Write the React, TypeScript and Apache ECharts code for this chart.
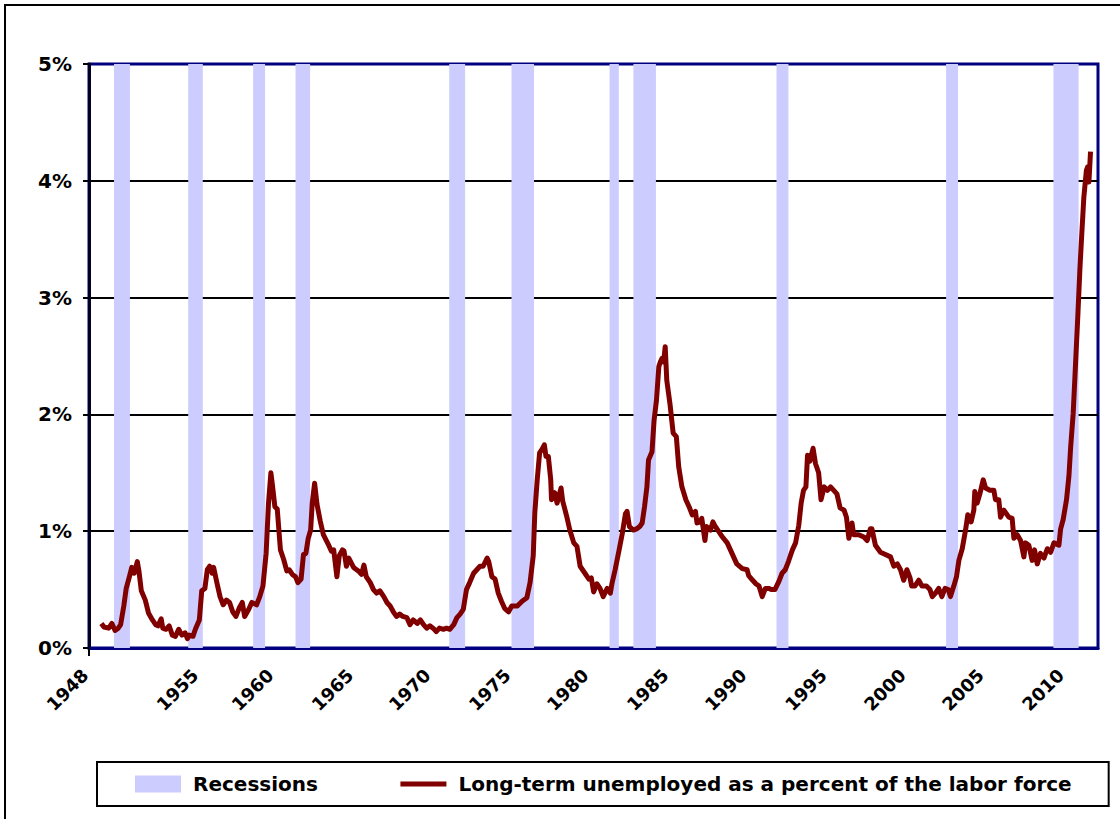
import React, { useEffect, useRef } from 'react';
import * as echarts from 'echarts';

// Observation dates (decimal years) and long-term unemployment (% of labor force)
const obsYears = [
  1948.04, 1948.2, 1948.5, 1948.7, 1948.9, 1949.1, 1949.25, 1949.45, 1949.6, 1949.8, 1949.95,
  1950.1, 1950.3, 1950.4, 1950.55, 1950.8, 1951.0, 1951.25, 1951.45, 1951.6, 1951.8, 1951.9,
  1952.1, 1952.3, 1952.5, 1952.7, 1952.9, 1953.1, 1953.3, 1953.45, 1953.55, 1953.8, 1953.95,
  1954.2, 1954.35, 1954.55, 1954.7, 1954.85, 1955.0, 1955.1, 1955.3, 1955.5, 1955.7, 1955.9,
  1956.1, 1956.3, 1956.5, 1956.7, 1956.9, 1957.05, 1957.3, 1957.5, 1957.8, 1958.0, 1958.2,
  1958.4, 1958.55, 1958.7, 1958.8, 1958.95, 1959.1, 1959.3, 1959.5, 1959.7, 1959.85, 1960.05,
  1960.25, 1960.4, 1960.6, 1960.75, 1960.9, 1961.05, 1961.2, 1961.3, 1961.45, 1961.6, 1961.8,
  1962.0, 1962.3, 1962.5, 1962.65, 1962.85, 1963.0, 1963.2, 1963.3, 1963.45, 1963.6, 1963.9,
  1964.2, 1964.4, 1964.55, 1964.7, 1964.95, 1965.15, 1965.35, 1965.55, 1965.8, 1966.0, 1966.2,
  1966.4, 1966.6, 1966.8, 1967.0, 1967.25, 1967.45, 1967.65, 1967.9, 1968.1, 1968.3, 1968.5,
  1968.7, 1968.9, 1969.1, 1969.3, 1969.55, 1969.75, 1969.95, 1970.2, 1970.4, 1970.6, 1970.8,
  1971.0, 1971.2, 1971.45, 1971.65, 1971.85, 1972.05, 1972.3, 1972.4, 1972.6, 1972.8, 1973.0,
  1973.2, 1973.4, 1973.65, 1973.85, 1974.2, 1974.5, 1974.8, 1975.0, 1975.2, 1975.3, 1975.45,
  1975.6, 1975.75, 1975.9, 1976.0, 1976.15, 1976.3, 1976.35, 1976.55, 1976.7, 1976.95, 1977.05,
  1977.3, 1977.5, 1977.75, 1977.95, 1978.15, 1978.45, 1978.7, 1978.85, 1979.0, 1979.2, 1979.4,
  1979.6, 1979.85, 1980.05, 1980.15, 1980.35, 1980.6, 1980.8, 1981.0, 1981.1, 1981.25, 1981.5,
  1981.7, 1981.9, 1982.05, 1982.2, 1982.35, 1982.45, 1982.67, 1982.8, 1982.95, 1983.1, 1983.2,
  1983.3, 1983.4, 1983.5, 1983.6, 1983.8, 1984.0, 1984.2, 1984.35, 1984.55, 1984.8, 1985.0,
  1985.2, 1985.4, 1985.5, 1985.7, 1985.8, 1986.0, 1986.1, 1986.35, 1986.5, 1986.65, 1986.85,
  1987.1, 1987.4, 1987.6, 1987.8, 1988.0, 1988.35, 1988.65, 1988.75, 1989.0, 1989.2, 1989.4,
  1989.6, 1989.8, 1990.0, 1990.2, 1990.4, 1990.65, 1990.85, 1991.05, 1991.25, 1991.5, 1991.7,
  1991.9, 1992.05, 1992.2, 1992.35, 1992.45, 1992.6, 1992.8, 1992.95, 1993.15, 1993.3, 1993.5,
  1993.7, 1993.9, 1994.1, 1994.3, 1994.5, 1994.75, 1994.9, 1995.05, 1995.25, 1995.35, 1995.67,
  1995.99, 1996.2, 1996.4, 1996.5, 1996.72, 1997.04, 1997.35, 1997.67, 1997.88, 1998.1, 1998.3,
  1998.5, 1998.7, 1998.9, 1999.0, 1999.2, 1999.45, 1999.65, 1999.93, 2000.15, 2000.3, 2000.5,
  2000.7, 2000.9, 2001.1, 2001.3, 2001.44, 2001.65, 2001.82, 2001.97, 2002.18, 2002.39, 2002.53,
  2002.74, 2002.91, 2002.97, 2003.12, 2003.29, 2003.5, 2003.65, 2003.92, 2004.17, 2004.27, 2004.48,
  2004.59, 2004.8, 2005.11, 2005.32, 2005.43, 2005.64, 2005.85, 2006.06, 2006.16, 2006.37, 2006.58,
  2006.73, 2006.9, 2007.1, 2007.32, 2007.53, 2007.74, 2007.95, 2008.26, 2008.37, 2008.53, 2008.74,
  2008.89, 2009.0, 2009.16, 2009.31, 2009.46, 2009.58, 2009.69, 2009.83, 2009.99, 2010.07, 2010.15,
  2010.25,
];

const obsValues = [
  0.21, 0.18, 0.17, 0.21, 0.15, 0.17, 0.20, 0.36, 0.51, 0.61, 0.69,
  0.64, 0.74, 0.66, 0.49, 0.41, 0.30, 0.24, 0.20, 0.19, 0.25, 0.17,
  0.16, 0.19, 0.11, 0.10, 0.16, 0.11, 0.13, 0.08, 0.11, 0.10, 0.16,
  0.24, 0.49, 0.51, 0.67, 0.70, 0.64, 0.69, 0.56, 0.44, 0.37, 0.41,
  0.39, 0.31, 0.27, 0.34, 0.39, 0.27, 0.33, 0.39, 0.37, 0.44, 0.53,
  0.81, 1.24, 1.50, 1.39, 1.21, 1.19, 0.84, 0.76, 0.66, 0.67, 0.63,
  0.61, 0.56, 0.59, 0.80, 0.81, 0.94, 1.01, 1.24, 1.41, 1.23, 1.09,
  0.97, 0.89, 0.83, 0.84, 0.61, 0.79, 0.84, 0.83, 0.70, 0.77, 0.69,
  0.66, 0.63, 0.71, 0.61, 0.56, 0.50, 0.47, 0.49, 0.44, 0.39, 0.36,
  0.31, 0.27, 0.29, 0.27, 0.26, 0.20, 0.24, 0.21, 0.24, 0.20, 0.17,
  0.19, 0.17, 0.14, 0.17, 0.16, 0.17, 0.16, 0.20, 0.26, 0.29, 0.33,
  0.50, 0.56, 0.64, 0.67, 0.70, 0.70, 0.77, 0.74, 0.61, 0.59, 0.47,
  0.40, 0.34, 0.31, 0.36, 0.36, 0.40, 0.43, 0.56, 0.79, 1.16, 1.44,
  1.67, 1.70, 1.74, 1.64, 1.64, 1.44, 1.27, 1.33, 1.24, 1.37, 1.26,
  1.13, 1.01, 0.90, 0.87, 0.70, 0.64, 0.59, 0.60, 0.48, 0.55, 0.51,
  0.44, 0.51, 0.47, 0.55, 0.67, 0.84, 0.98, 1.15, 1.17, 1.04, 1.01,
  1.02, 1.04, 1.07, 1.21, 1.38, 1.61, 1.68, 1.95, 2.12, 2.41, 2.45,
  2.48, 2.45, 2.58, 2.29, 2.09, 1.84, 1.81, 1.55, 1.38, 1.27, 1.21,
  1.14, 1.17, 1.07, 1.08, 1.11, 0.92, 1.04, 1.01, 1.08, 1.04, 1.00,
  0.95, 0.90, 0.84, 0.78, 0.72, 0.68, 0.67, 0.62, 0.58, 0.55, 0.53,
  0.44, 0.51, 0.51, 0.50, 0.50, 0.57, 0.64, 0.67, 0.74, 0.84, 0.90,
  1.05, 1.24, 1.35, 1.38, 1.65, 1.60, 1.71, 1.58, 1.50, 1.27, 1.38,
  1.35, 1.38, 1.35, 1.32, 1.20, 1.18, 1.12, 0.94, 1.07, 0.97, 0.97,
  0.95, 0.92, 1.02, 1.02, 0.88, 0.82, 0.80, 0.78, 0.70, 0.72, 0.67,
  0.58, 0.67, 0.60, 0.53, 0.53, 0.58, 0.53, 0.53, 0.50, 0.44, 0.47,
  0.51, 0.44, 0.51, 0.50, 0.44, 0.53, 0.61, 0.75, 0.85, 1.01, 1.14,
  1.08, 1.18, 1.34, 1.24, 1.32, 1.44, 1.37, 1.35, 1.35, 1.27, 1.27,
  1.12, 1.18, 1.12, 1.11, 0.94, 0.97, 0.92, 0.78, 0.90, 0.88, 0.75,
  0.84, 0.72, 0.81, 0.77, 0.85, 0.82, 0.90, 0.88, 1.02, 1.10, 1.27,
  1.47, 1.72, 2.01, 2.44, 2.87, 3.24, 3.52, 3.86, 4.09, 4.12, 3.99,
  4.25,
];

// NBER recessions: peak month and trough month
const recessionPeaks = ['1948-11', '1953-07', '1957-08', '1960-04', '1969-12', '1973-11', '1980-01', '1981-07', '1990-07', '2001-03', '2007-12'];
const recessionTroughs = ['1949-10', '1954-05', '1958-04', '1961-02', '1970-11', '1975-03', '1980-07', '1982-11', '1991-03', '2001-11', '2009-06'];

// X-axis tick labels and where (in years on the date axis) they sit
const xTickLabels = ['1948', '1955', '1960', '1965', '1970', '1975', '1980', '1985', '1990', '1995', '2000', '2005', '2010'];
const xTickAt = [1947.01, 1953.93, 1958.65, 1963.68, 1968.53, 1973.56, 1978.47, 1983.5, 1988.41, 1993.45, 1998.42, 2003.33, 2008.37];

const seriesNames = ['Recessions', 'Long-term unemployed as a percent of the labor force'];

const FONT = '"DejaVu Sans", "Liberation Sans", Arial, sans-serif';

// date-axis range shown in the plot
const X_MIN = 1947.26;
const X_MAX = 2010.72;
// label axis shares the same scale but starts further left so "1948" fits
const LABEL_X_MIN = 1946.06;

function monthStart(s: string): number {
  const [y, m] = s.split('-').map(Number);
  return y + (m - 1) / 12;
}
function monthEnd(s: string): number {
  const [y, m] = s.split('-').map(Number);
  return y + m / 12;
}

export default function App() {
  const ref = useRef<HTMLDivElement>(null);

  useEffect(() => {
    document.body.style.margin = '0';
    if (!ref.current) return;
    const chart = echarts.init(ref.current, null, { renderer: 'svg' });

    const lineData = obsYears.map((t, i) => [t, obsValues[i]]);
    const recessionData = recessionPeaks.map((p, i) => [monthStart(p), monthEnd(recessionTroughs[i]), 0]);

    const labelStyle = {
      fontFamily: FONT,
      fontWeight: 'bold',
      fontSize: 20,
      color: '#000',
    };

    const option: any = {
      animation: false,
      backgroundColor: '#ffffff',
      textStyle: { fontFamily: FONT },
      grid: [
        {
          left: 89,
          top: 64,
          right: 22,
          bottom: 171,
          show: true,
          backgroundColor: '#ffffff',
          borderColor: '#000080',
          borderWidth: 3,
        },
        {
          left: 70,
          top: 64,
          right: 22,
          bottom: 171,
          show: false,
        },
      ],
      xAxis: [
        {
          type: 'value',
          gridIndex: 0,
          min: X_MIN,
          max: X_MAX,
          axisLine: { show: true, onZero: false, lineStyle: { color: '#000080', width: 3 } },
          axisTick: { show: true, customValues: [X_MIN], length: 8, lineStyle: { color: '#000', width: 2 } },
          splitLine: { show: false },
          axisLabel: { show: false },
        },
        {
          type: 'value',
          gridIndex: 1,
          min: LABEL_X_MIN,
          max: X_MAX,
          axisLine: { show: false },
          axisTick: { show: false },
          splitLine: { show: false },
          axisLabel: {
            ...labelStyle,
            fontSize: 18,
            customValues: xTickAt,
            rotate: 45,
            margin: 24,
            formatter: (v: number) => {
              const i = xTickAt.findIndex((x) => Math.abs(x - v) < 1e-6);
              return i >= 0 ? xTickLabels[i] : '';
            },
          },
        },
      ],
      yAxis: [
        {
          type: 'value',
          gridIndex: 0,
          min: 0,
          max: 5,
          interval: 1,
          axisLine: { show: true, lineStyle: { color: '#000020', width: 3 } },
          axisTick: { show: true, length: 6, lineStyle: { color: '#000', width: 2 } },
          splitLine: { show: true, showMinLine: false, showMaxLine: false, lineStyle: { color: '#000', width: 2 } },
          axisLabel: { ...labelStyle, formatter: '{value}%', margin: 17 },
        },
        {
          type: 'value',
          gridIndex: 1,
          min: 0,
          max: 5,
          show: false,
        },
      ],
      legend: {
        left: 97,
        top: 762,
        orient: 'horizontal',
        padding: [12, 37, 12, 38],
        itemGap: 80,
        itemWidth: 46,
        itemHeight: 17,
        borderColor: '#000',
        borderWidth: 2,
        backgroundColor: '#fff',
        selectedMode: false,
        textStyle: { ...labelStyle, padding: [0, 0, 0, 7] },
        data: [
          { name: seriesNames[0], icon: 'rect', itemStyle: { color: '#CCCCFF' } },
          { name: seriesNames[1], itemStyle: { opacity: 0 }, lineStyle: { color: '#800000', width: 5 } },
        ],
      },
      series: [
        {
          type: 'custom',
          name: seriesNames[0],
          xAxisIndex: 0,
          yAxisIndex: 0,
          data: recessionData,
          encode: { x: [0, 1], y: 2 },
          itemStyle: { color: '#CCCCFF' },
          silent: true,
          z: 2,
          renderItem: (params: any, api: any) => {
            const a = api.coord([api.value(0), 5]);
            const b = api.coord([api.value(1), 0]);
            return {
              type: 'rect',
              shape: { x: a[0], y: a[1], width: b[0] - a[0], height: b[1] - a[1] },
              style: { fill: '#CCCCFF' },
            };
          },
        },
        {
          type: 'line',
          name: seriesNames[1],
          xAxisIndex: 0,
          yAxisIndex: 0,
          data: lineData,
          symbol: 'none',
          showSymbol: false,
          z: 3,
          lineStyle: { color: '#800000', width: 5, join: 'round' },
          itemStyle: { color: '#800000' },
        },
      ],
      graphic: [
        {
          type: 'rect',
          silent: true,
          z: 100,
          shape: { x: 5, y: 5, width: 1300, height: 1000 },
          style: { fill: 'none', stroke: '#000', lineWidth: 2 },
        },
      ],
    };

    chart.setOption(option);
    return () => chart.dispose();
  }, []);

  return <div ref={ref} style={{ width: 1120, height: 819 }} />;
}
